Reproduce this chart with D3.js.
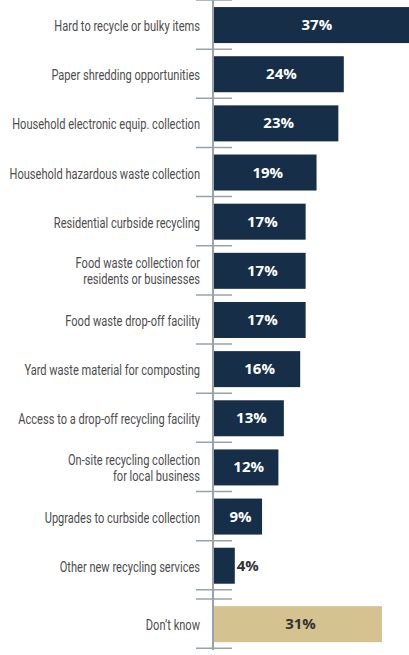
<!DOCTYPE html>
<html><head><meta charset="utf-8">
<script src="https://cdn.jsdelivr.net/npm/d3@7"></script>
<style>
html,body{margin:0;padding:0;background:#fff;}
svg{display:block;}
.lab{font-family:Roboto,"Liberation Sans",sans-serif;font-size:15px;fill:#4d4d4d;}
.val{font-family:"Open Sans",sans-serif;font-weight:700;font-size:15px;}
</style></head>
<body>
<svg id="c" width="409" height="655"></svg>
<script>
const categories = [
  ["Hard to recycle or bulky items"],
  ["Paper shredding opportunities"],
  ["Household electronic equip. collection"],
  ["Household hazardous waste collection"],
  ["Residential curbside recycling"],
  ["Food waste collection for","residents or businesses"],
  ["Food waste drop-off facility"],
  ["Yard waste material for composting"],
  ["Access to a drop-off recycling facility"],
  ["On-site recycling collection","for local business"],
  ["Upgrades to curbside collection"],
  ["Other new recycling services"],
  ["Don\u2019t know"]
];
const values = [37,24,23,19,17,17,17,16,13,12,9,4,31];
const groups = ["service","service","service","service","service","service","service","service","service","service","service","service","dontknow"];
const valueLabels = values.map(v => v + "%");

const svg = d3.select("#c");
const x0 = 213;
const x = d3.scaleLinear().domain([0, 10]).range([x0, x0 + 54.5]);
const step = 49.15, gap = 9.3, barH = 36;
const bandTop = i => i * step + (groups[i] === "dontknow" ? gap : 0);
const colors = {service:"#162e47", dontknow:"#d5c291"};

// ticks
const tickYs = [];
for (let i = 0; i < categories.length; i++) {
  tickYs.push(bandTop(i));
  if (i === categories.length - 1 || groups[i+1] !== groups[i]) tickYs.push(bandTop(i) + step);
}
svg.append("g").selectAll("line").data(tickYs).join("line")
  .attr("x1", 196).attr("x2", 232)
  .attr("y1", d => d).attr("y2", d => d)
  .attr("stroke", "#98a2aa").attr("stroke-width", 1.5);

// bars
const g = svg.append("g").selectAll("g").data(values).join("g");
g.append("rect")
  .attr("x", x(0))
  .attr("y", (d,i) => bandTop(i) + (step - barH)/2 + 0.5)
  .attr("width", d => x(d) - x(0))
  .attr("height", barH)
  .attr("fill", (d,i) => colors[groups[i]]);

// axis line
svg.append("line").attr("x1", x0).attr("x2", x0).attr("y1", 0).attr("y2", 650)
  .attr("stroke", "#98a2aa").attr("stroke-width", 2);

// values
g.append("text").attr("class","val")
  .attr("x", (d,i) => d < 6 ? x(d) + 2 : (x(0) + x(d))/2 + 3)
  .attr("y", (d,i) => bandTop(i) + step/2 + 5.5)
  .attr("text-anchor", d => d < 6 ? "start" : "middle")
  .attr("fill", (d,i) => (d < 6 || groups[i] === "dontknow") ? "#333333" : "#ffffff")
  .text((d,i) => valueLabels[i]);

// category labels (condensed look via horizontal scale)
const probe = svg.append("text").attr("class","lab").text(categories[2][0]);
const sx = 188 / probe.node().getComputedTextLength();
probe.remove();
g.append("text").attr("class","lab")
  .attr("text-anchor","end")
  .attr("transform", `translate(200,0) scale(${sx},1)`)
  .each(function(d,i){
    const lines = categories[i];
    const c = bandTop(i) + step/2;
    const t = d3.select(this);
    lines.forEach((ln,k) => {
      const y = lines.length === 1 ? c + 6.5 : c - 2 + k*16;
      t.append("tspan").attr("x", 0).attr("y", y).text(ln);
    });
  });
</script>
</body></html>
